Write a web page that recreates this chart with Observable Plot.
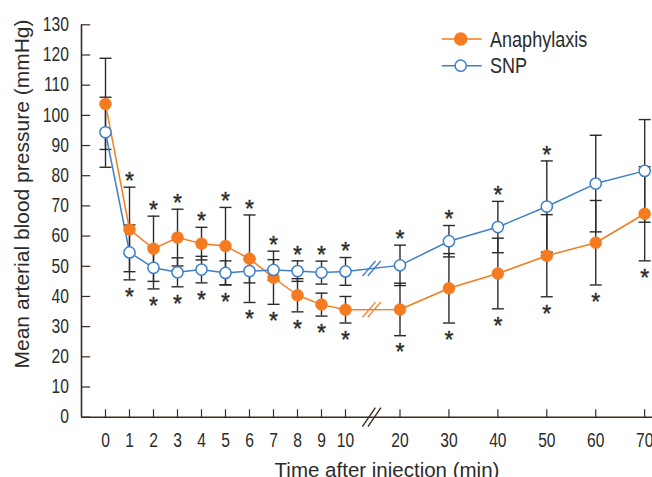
<!DOCTYPE html>
<html>
<head>
<meta charset="utf-8">
<script src="https://cdn.jsdelivr.net/npm/d3@7"></script>
<script src="https://cdn.jsdelivr.net/npm/@observablehq/plot@0.6"></script>
<style>
  html, body { margin: 0; padding: 0; background: #fff; }
  #wrap { position: relative; width: 652px; height: 477px; overflow: hidden; }
  #legend { position: absolute; left: 0; top: 0; pointer-events: none; }
</style>
</head>
<body>
<div id="wrap"></div>
<script>
// ---- data ----
const time     = [0, 1, 2, 3, 4, 5, 6, 7, 8, 9, 10, 20, 30, 40, 50, 60, 70];
const anaMean  = [103.8, 62.2, 55.8, 59.5, 57.5, 56.7, 52.5, 46.2, 40.4, 37.3, 35.6, 35.7, 42.7, 47.6, 53.5, 57.8, 67.4];
const anaSD    = [15.1, 14.0, 10.8, 9.4, 5.4, 12.8, 14.5, 8.8, 5.5, 3.8, 4.4, 8.7, 11.5, 11.7, 13.6, 14.0, 15.6];
const snpMean  = [94.4, 54.6, 49.5, 48.0, 48.9, 47.8, 48.4, 48.8, 48.4, 47.9, 48.3, 50.3, 58.3, 63.0, 69.8, 77.4, 81.6];
const snpSD    = [11.6, 9.1, 7.0, 4.8, 4.4, 4.0, 3.9, 3.4, 3.4, 3.8, 4.6, 6.7, 5.2, 8.5, 15.1, 16.0, 17.0];
const sigUp    = [0, 1, 1, 1, 1, 1, 1, 1, 1, 1, 1, 1, 1, 1, 1, 0, 0];
const sigDown  = [0, 1, 1, 1, 1, 1, 1, 1, 1, 1, 1, 1, 1, 1, 1, 1, 1];
const xTicks   = [0, 1, 2, 3, 4, 5, 6, 7, 8, 9, 10, 20, 30, 40, 50, 60, 70];
const yTicks   = [0, 10, 20, 30, 40, 50, 60, 70, 80, 90, 100, 110, 120, 130];
const seriesNames = ["Anaphylaxis", "SNP"];
const breakAt  = 14.8;   // x position of the axis break (between 10 and 20 min)
const xTitle = "Time after injection (min)";
const yTitle = "Mean arterial blood pressure (mmHg)";

// ---- styles ----
const ORANGE = "#f47b20";
const BLUE = "#3f7fc5";
const INK = "#2b2b2b";
const AXIS = "#3d2b22";
const REG = "'Liberation Sans', Arial, sans-serif";

// ---- derived tables ----
const ana = time.map((t, i) => ({t, mean: anaMean[i], sd: anaSD[i]}));
const snp = time.map((t, i) => ({t, mean: snpMean[i], sd: snpSD[i]}));
const all = ana.concat(snp);
const starsUp = time.map((t, i) => ({t, v: Math.max(anaMean[i] + anaSD[i], snpMean[i] + snpSD[i]), s: sigUp[i]})).filter(d => d.s);
const starsDown = time.map((t, i) => ({t, v: Math.min(anaMean[i] - anaSD[i], snpMean[i] - snpSD[i]), s: sigDown[i]})).filter(d => d.s);
const i10 = time.indexOf(10), i20 = time.indexOf(20);
const frac = (breakAt - time[i10]) / (time[i20] - time[i10]);
const lineBreaks = [
  {t: breakAt, v: anaMean[i10] + (anaMean[i20] - anaMean[i10]) * frac, c: ORANGE},
  {t: breakAt, v: snpMean[i10] + (snpMean[i20] - snpMean[i10]) * frac, c: BLUE}
];

// ---- custom symbols ----
const capSym = {draw(ctx) { ctx.moveTo(-6, 0); ctx.lineTo(6, 0); }};
const tickUp = {draw(ctx) { ctx.moveTo(0, 0); ctx.lineTo(0, -8); }};
const tickRight = {draw(ctx) { ctx.moveTo(0, 0); ctx.lineTo(8.7, 0); }};
const slashes = (w, h, s) => ({draw(ctx) {
  ctx.moveTo(-w / 2 - s, h / 2); ctx.lineTo(w / 2 - s, -h / 2);
  ctx.moveTo(-w / 2 + s, h / 2); ctx.lineTo(w / 2 + s, -h / 2);
}});

const xDomain = [-1, 10, 20, 71.6];

const chart = Plot.plot({
  width: 652,
  height: 477,
  marginLeft: 81,
  marginRight: 0,
  marginTop: 24.3,
  marginBottom: 60.3,
  style: {fontFamily: REG, color: INK, background: "#fff"},
  x: {type: "linear", domain: xDomain, range: [81, 345, 399.5, 652]},
  y: {domain: [0, 130]},
  marks: [
    // axes lines
    Plot.ruleY([0], {x1: xDomain[0], x2: xDomain[xDomain.length - 1], stroke: AXIS, strokeWidth: 1.6}),
    Plot.ruleX([xDomain[0]], {y1: 0, y2: 130, stroke: AXIS, strokeWidth: 1.6}),
    Plot.dot(xTicks, {x: d => d, y: 0, symbol: tickUp, fill: "none", stroke: AXIS, strokeWidth: 1.2}),
    Plot.dot(yTicks, {x: xDomain[0], y: d => d, symbol: tickRight, fill: "none", stroke: AXIS, strokeWidth: 1.2}),
    Plot.dot([breakAt], {x: d => d, y: 0, symbol: slashes(13, 19, 2.8), fill: "none", stroke: AXIS, strokeWidth: 1.4}),
    // error bars
    Plot.ruleX(all, {x: "t", y1: d => d.mean - d.sd, y2: d => d.mean + d.sd, stroke: INK, strokeWidth: 1.4}),
    Plot.dot(all, {x: "t", y: d => d.mean + d.sd, symbol: capSym, fill: "none", stroke: INK, strokeWidth: 1.4}),
    Plot.dot(all, {x: "t", y: d => d.mean - d.sd, symbol: capSym, fill: "none", stroke: INK, strokeWidth: 1.4}),
    // series lines
    Plot.line(ana, {x: "t", y: "mean", stroke: ORANGE, strokeWidth: 1.5}),
    Plot.line(snp, {x: "t", y: "mean", stroke: BLUE, strokeWidth: 1.5}),
    Plot.dot(lineBreaks, {x: "t", y: "v", symbol: slashes(13, 15, 2.6), fill: "none", stroke: "c", strokeWidth: 1.3}),
    // points
    Plot.dot(ana, {x: "t", y: "mean", r: 6, fill: ORANGE, stroke: ORANGE, strokeWidth: 0.5}),
    Plot.dot(snp, {x: "t", y: "mean", r: 5.6, fill: "#fff", stroke: BLUE, strokeWidth: 1.5}),
    // significance asterisks
    Plot.text(starsUp, {x: "t", y: "v", text: () => "*", dy: -5.6, fontSize: 23, fill: INK, stroke: INK, strokeWidth: 0.4}),
    Plot.text(starsDown, {x: "t", y: "v", text: () => "*", dy: 17.4, fontSize: 23, fill: INK, stroke: INK, strokeWidth: 0.4}),
    // tick labels
    Plot.axisY({ticks: yTicks, tickSize: 0, tickPadding: 12.7, fontSize: 19.5, fill: INK}),
    Plot.axisX({ticks: xTicks, tickSize: 0, tickPadding: 16, fontSize: 19.5, fill: INK, label: null}),
    // titles
    Plot.text([xTitle], {text: d => d, frameAnchor: "bottom", textAnchor: "middle", dx: 20, dy: 53.2, lineAnchor: "middle", fontSize: 20.5, fill: INK}),
    Plot.text([yTitle], {text: d => d, frameAnchor: "left", textAnchor: "middle", rotate: -90, dx: -59.6, dy: -27, lineAnchor: "middle", fontSize: 21, fill: INK})
  ]
});

// condensed look of the tick labels (the reference uses a narrow face)
d3.select(chart).selectAll('g[aria-label="y-axis tick label"] text, g[aria-label="x-axis tick label"] text')
  .attr("transform", function() { return (this.getAttribute("transform") || "") + " scale(0.8,1)"; });

const wrap = document.getElementById("wrap");
wrap.appendChild(chart);

// ---- legend (overlay) ----
const ns = "http://www.w3.org/2000/svg";
const leg = document.createElementNS(ns, "svg");
leg.setAttribute("id", "legend");
leg.setAttribute("width", 652);
leg.setAttribute("height", 477);
const legRows = [
  {name: seriesNames[0], color: ORANGE, filled: true, y: 39},
  {name: seriesNames[1], color: BLUE, filled: false, y: 65.7}
];
for (const r of legRows) {
  const ln = document.createElementNS(ns, "line");
  ln.setAttribute("x1", 441.7); ln.setAttribute("x2", 481.7);
  ln.setAttribute("y1", r.y); ln.setAttribute("y2", r.y);
  ln.setAttribute("stroke", r.color); ln.setAttribute("stroke-width", 1.5);
  leg.appendChild(ln);
  const c = document.createElementNS(ns, "circle");
  c.setAttribute("cx", 460.7); c.setAttribute("cy", r.y); c.setAttribute("r", r.filled ? 6 : 5.6);
  c.setAttribute("fill", r.filled ? r.color : "#fff");
  c.setAttribute("stroke", r.color); c.setAttribute("stroke-width", 1.5);
  leg.appendChild(c);
  const tx = document.createElementNS(ns, "text");
  tx.setAttribute("transform", `translate(490,${r.y + 7.5}) scale(0.84,1)`);
  tx.setAttribute("font-family", REG);
  tx.setAttribute("font-size", 21.5);
  tx.setAttribute("fill", INK);
  tx.textContent = r.name;
  leg.appendChild(tx);
}
wrap.appendChild(leg);
</script>
</body>
</html>
